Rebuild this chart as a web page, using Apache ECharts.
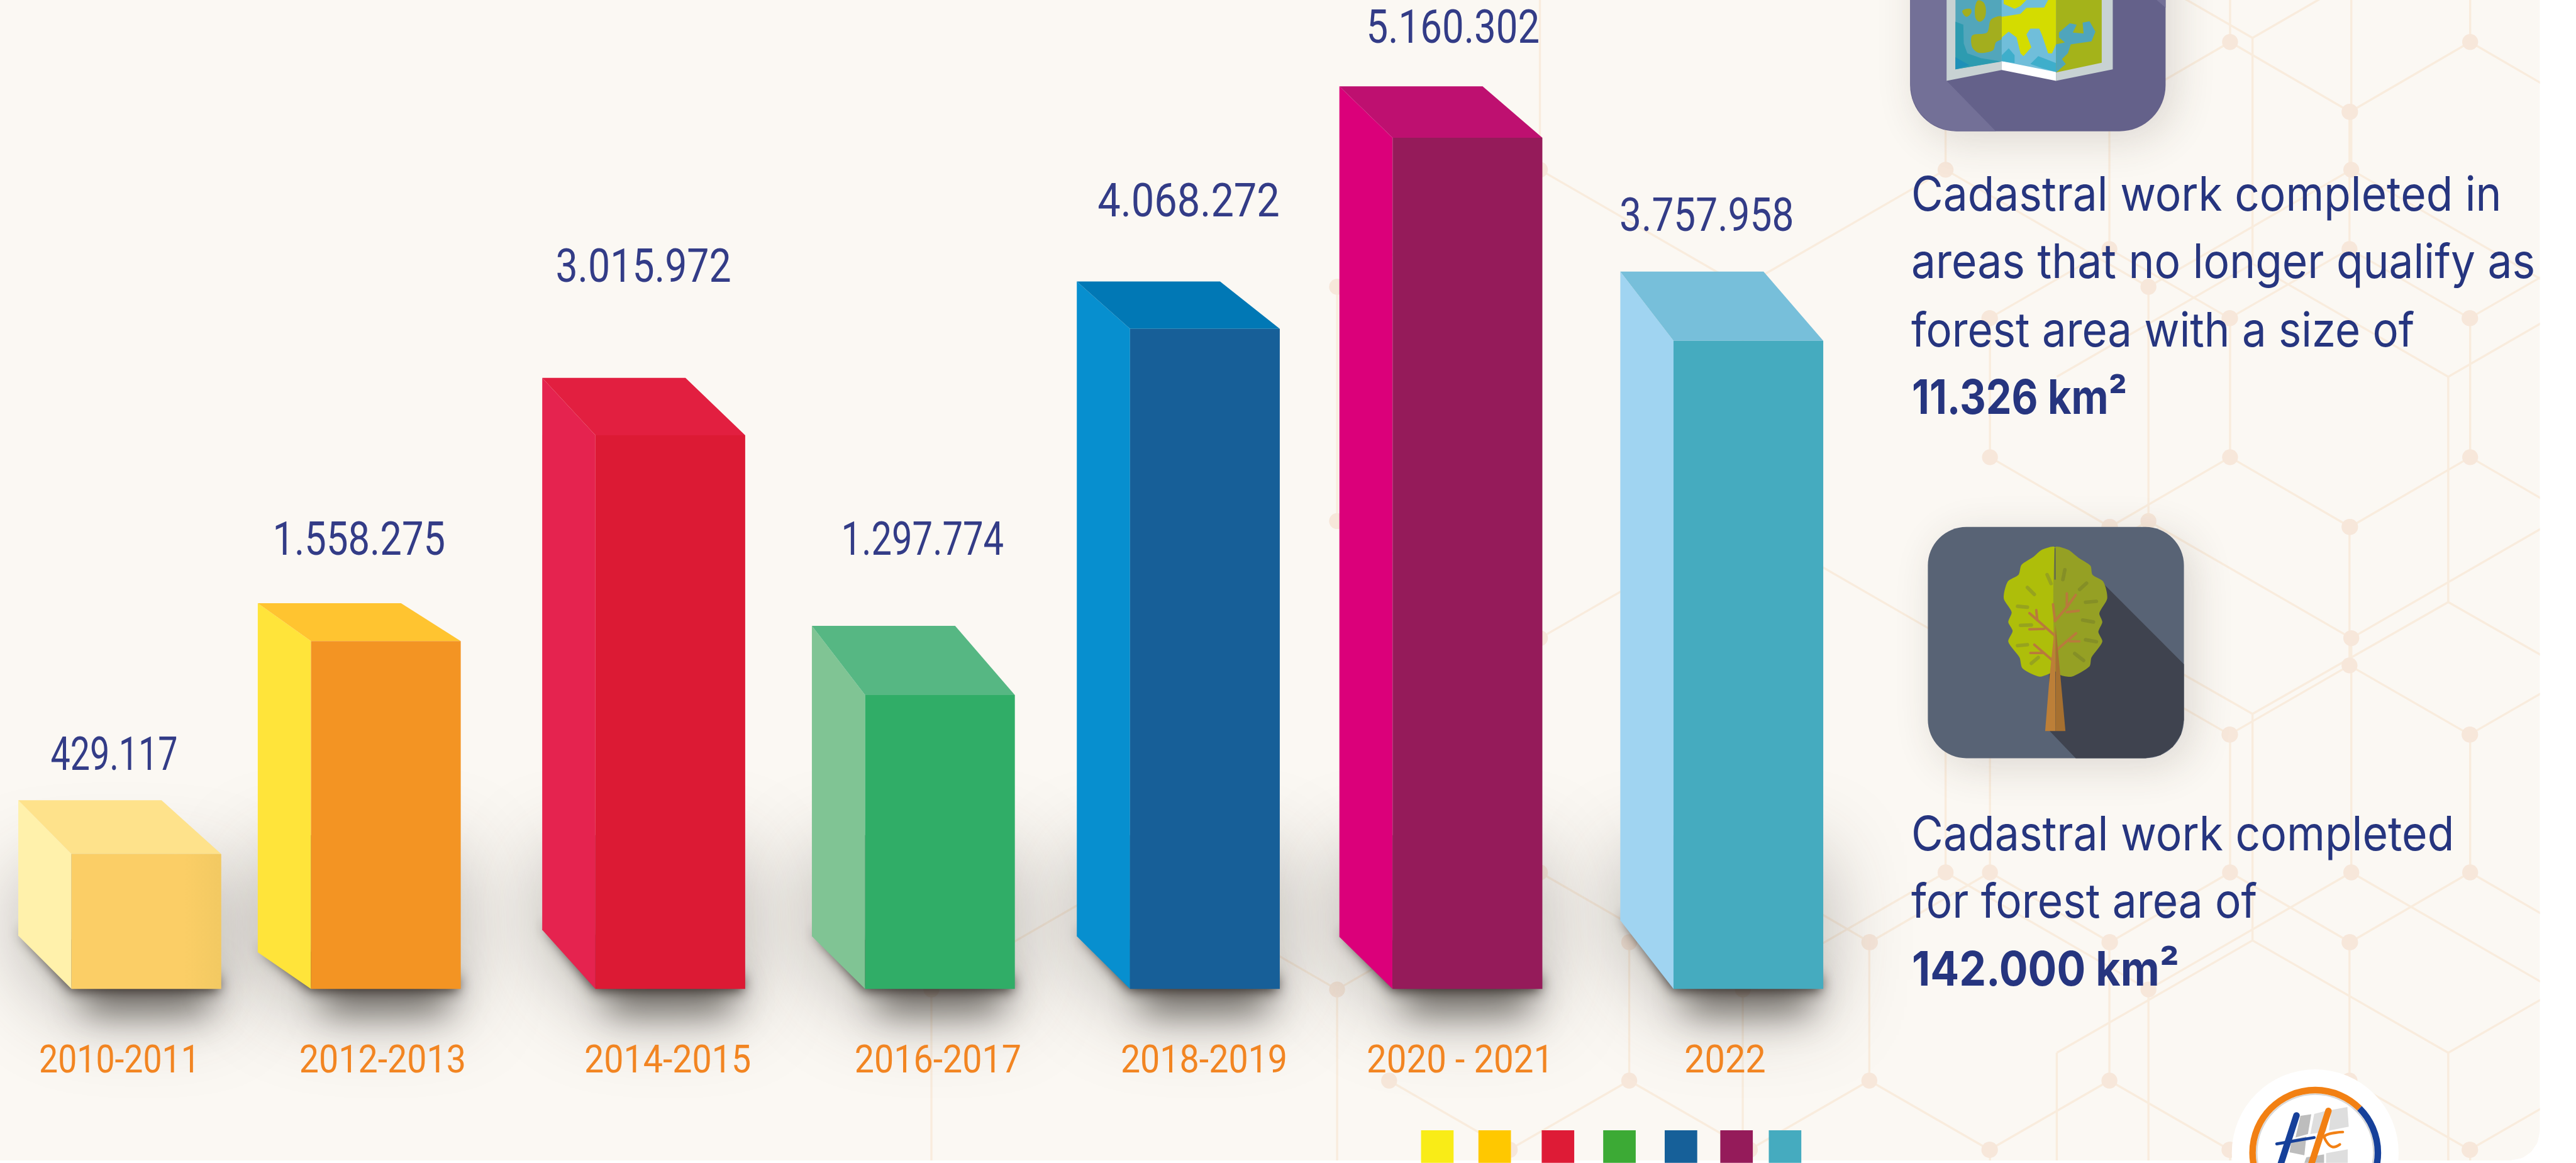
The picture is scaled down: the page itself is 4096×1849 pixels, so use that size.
<!DOCTYPE html>
<html><head><meta charset="utf-8">
<style>html,body{margin:0;padding:0;background:#fff}#c{width:4096px;height:1849px}</style>
<script src="https://cdn.jsdelivr.net/npm/echarts@6/dist/echarts.min.js"></script>
</head><body><div id="c"></div>
<script>
// ---------- data ----------
const categories = ['2010-2011','2012-2013','2014-2015','2016-2017','2018-2019','2020 - 2021','2022'];
const printedValues = [429117,1558275,3015972,1297774,4068272,5160302,3757958];
// The artwork is not drawn to scale: these are the bar heights as read on a linear axis topped by the tallest bar.
const drawnValues = [818000,2109000,3357000,1782000,4002000,5160302,3930000];
const noteLinesA = ['Cadastral work completed in','areas that no longer qualify as','forest area with a size of'];
const noteBoldA = '11.326 km²';
const noteLinesB = ['Cadastral work completed','for forest area of'];
const noteBoldB = '142.000 km²';
// ---------- styling (in reference pixels) ----------
const S = 4096/4356;
const frontCol = ['#FBCE66','#F39423','#DC1A34','#30AD67','#175F98','#951B5A','#45ABBF'];
const leftCol  = ['#FFF1AB','#FFE43A','#E5234F','#80C494','#078FCF','#DB007A','#A0D4F1'];
const topCol   = ['#FEE28B','#FFC430','#E21F40','#56B783','#0178B5','#BE1070','#77BFDA'];
const swatchCol= ['#F9EC17','#FFC800','#DE1B36','#3CAA35','#166099','#951B5A','#45ABBF'];
const swatchX  = [2403,2500,2607,2711,2815,2909,2991];
const barNudge = [21,-27,1,4,-1,-10,12];
const depthTop = [91,64,97,117,80,87,117];
const depthBot = [90,62,100,89,89,88,116];
const valueCx  = [193,607,1088,1560,2010,2457,2886];
const valueBase= [1310,946,485,946,374,81,399];
const valueW   = [215,292,297,275,308,293,295];
const catCx    = [202,647,1129,1586,2036,2469,2917];
const catW     = [272,282,282,282,282,316,138];
const NAVY='#333C87', ORANGE='#F28522';
const VF='Roboto, sans-serif', TF='Inter, sans-serif';
const mctx=document.createElement('canvas').getContext('2d');
function fit(text,font,w){mctx.font=font;return w/mctx.measureText(text).width;}

// ---------- background hexagons ----------
const seg=[],nodeSet=new Map();
function hex(rows,step,keep,withNodes){
  for(let r=0;r<rows.length-1;r++){
    const [y1,x1]=rows[r],[y2,x2]=rows[r+1];
    for(let a=x1-step*12;a<4500;a+=step){
      const targets=(x1===x2)?[a]:[a-step/2,a+step/2];
      for(const b of targets){
        if(!keep(a,y1,b,y2))continue;
        seg.push([a,y1,b,y2]);
        if(withNodes){nodeSet.set(a+'_'+y1,[a,y1]);nodeSet.set(b+'_'+y2,[b,y2]);}
      }
    }
  }
}
hex([[-109,2604],[287,2604],[485,2947],[881,2947],[1079,2604],[1475,2604],[1673,2947],[2069,2947]],686,
  (a,y,b,v)=>{const mx=Math.min(a,b);return mx>=1575&&(mx>=2250||Math.min(y,v)>=1475)&&!(mx<2250&&a===b&&y<1673);},true);
hex([[-164,3771],[71,3771],[189,3973],[421,3973],[538,3771],[773,3771],[891,3973],[1125,3973],[1242,3771],[1475,3771],[1593,3973],[1827,3973],[1944,3771],[2180,3771]],406,
  (a,y,b,v)=>{const mx=Math.min(a,b),my=Math.min(y,v);return mx>=3364||(my>=1475&&mx>=2958)||(my>=1827&&mx>=2349)||(a===2755&&b===2755&&y===1593);},true);
hex([[-127,4140],[64,3809],[446,3809],[637,4140],[1018,4140],[1207,3809],[1590,3809],[1780,4140],[2162,4140]],662,
  (a,y,b,v)=>{const mx=Math.min(a,b);return mx>=3478&&!(a===3478&&b===3478&&y===637);},false);

// ---------- page-level decoration, in reference pixels ----------
const G=[];
const P=pts=>pts.map(p=>[p[0]*S,p[1]*S]);
function poly(pts,fill,smooth){G.push({type:'polygon',shape:{points:P(pts),smooth:smooth||0},style:{fill}});}
function line(a,b,c,d,stroke,w,cap){G.push({type:'line',shape:{x1:a*S,y1:b*S,x2:c*S,y2:d*S},style:{stroke,lineWidth:w*S,lineCap:cap||'butt'}});}
function rrect(x,y,w,h,r,fill,extra){G.push({type:'rect',shape:{x:x*S,y:y*S,width:w*S,height:h*S,r:r*S},style:Object.assign({fill},extra||{})});}
function circ(cx,cy,r,style){G.push({type:'circle',shape:{cx:cx*S,cy:cy*S,r:r*S},style});}

// panel
rrect(-60,-60,4355,2022,50,'#FBF8F3');
seg.forEach(s=>line(s[0],s[1],s[2],s[3],'#F9ECDD',3.6));
nodeSet.forEach(n=>circ(n[0],n[1],13.5,{fill:'#F7E7DA'}));
// white page margin outside the rounded panel: right strip and bottom strip, with the corner notch
G.push({type:'polygon',shape:{points:P([[4295,-10],[4370,-10],[4370,1980],[-10,1980],[-10,1962],[4245,1962],[4265,1958],[4280,1948],[4291,1932],[4295,1912]])},style:{fill:'#FFFFFF'}});

// swatches
swatchX.forEach((x,i)=>rrect(x,1911,55,55,0,swatchCol[i]));

// map icon
const shadowSoft={shadowBlur:70*S,shadowColor:'rgba(60,50,40,0.16)',shadowOffsetX:14*S,shadowOffsetY:14*S};
rrect(3230,-170,432,392,78,'#64618A',shadowSoft);
poly([[3230,-5],[3292,-5],[3292,137],[3375,222],[3310,222],[3288,219],[3265,209],[3246,191],[3234,168],[3230,142]],'#737097');
poly([[3647,0],[3662,13],[3662,0]],'#737097');
const z9=pts=>pts.map(p=>[3200+p[0]/3,p[1]/3]);
poly(z9([[275,0],[555,0],[555,355],[275,410]]),'#C8D2D3');
poly(z9([[555,0],[830,0],[830,410],[555,355]]),'#FFFFFF');
poly(z9([[830,0],[1118,0],[1118,352],[830,410]]),'#C8D2D3');
poly(z9([[320,0],[555,0],[555,310],[320,352]]),'#52A6BB');
poly(z9([[320,110],[360,125],[362,220],[380,270],[450,295],[555,312],[320,352]]),'#2D9BB0');
poly(z9([[320,290],[390,330],[320,352]]),'#1E90B8');
poly(z9([[405,180],[480,165],[500,100],[555,85],[555,195],[525,215],[510,255],[440,268],[405,240]]),'#A3AE1E',0.3);
poly(z9([[430,5],[465,15],[472,80],[445,110],[420,85]]),'#A3AE1E',0.4);
poly(z9([[355,55],[395,45],[400,65],[375,85]]),'#A3AE1E',0.4);
poly(z9([[555,0],[830,0],[830,365],[555,310]]),'#70BEDA');
poly(z9([[555,85],[650,70],[680,40],[770,38],[790,0],[830,0],[830,225],[810,270],[790,270],[760,180],[745,145],[700,145],[680,175],[705,240],[665,285],[650,270],[630,190],[590,160],[555,190]]),'#D4DC00');
poly(z9([[565,0],[680,0],[650,30],[620,45],[565,20]]),'#D4DC00');
poly(z9([[555,280],[590,245],[620,280],[620,320],[555,310]]),'#3EAECB');
poly(z9([[700,325],[740,285],[830,320],[830,365],[760,345]]),'#3EAECB');
poly(z9([[830,0],[1062,0],[1062,318],[830,368]]),'#A4B31A');
poly(z9([[845,165],[900,118],[935,125],[915,165],[970,170],[965,115],[1000,108],[1030,160],[1010,210],[905,225],[890,270],[860,300],[880,325],[830,368],[830,225],[875,215],[845,190]]),'#4FA5BC');

// tree icon
rrect(3260,891,433,391,65,'#586375',shadowSoft);
poly([[3557,987],[3693,1123],[3693,1217],[3688,1242],[3674,1263],[3653,1277],[3628,1282],[3510,1282],[3465,1235],[3465,1100]],'#3F434F');
const z10=pts=>pts.map(p=>[3360+p[0]/3,900+p[1]/3]);
poly(z10([[345,78],[280,88],[235,125],[175,165],[160,215],[105,250],[85,335],[125,405],[108,455],[130,500],[108,555],[165,635],[180,690],[265,732],[320,715],[345,700]]),'#AEBE0A',0.25);
poly(z10([[345,78],[410,88],[465,130],[525,170],[535,215],[590,250],[610,335],[570,410],[585,455],[565,505],[585,555],[530,635],[520,680],[430,732],[375,725],[345,700]]),'#95A024',0.25);
const leafL=[[305,215,325,260],[205,280,240,315],[155,375,205,380],[170,472,225,470],[155,575,205,570],[225,665,260,635]];
const leafR=[[395,190,385,240],[505,258,470,290],[500,355,555,350],[485,445,540,455],[500,545,555,555],[445,615,490,650]];
const zl=(a,c)=>{const q=z10([[a[0],a[1]],[a[2],a[3]]]);line(q[0][0],q[0][1],q[1][0],q[1][1],c,6,'round');};
leafL.forEach(a=>zl(a,'#97A31E'));leafR.forEach(a=>zl(a,'#858F26'));
{const q=z10([[345,80],[345,240]]);line(q[0][0],q[0][1],q[1][0],q[1][1],'#4A5060',1.6);}
[[345,525,255,445],[255,445,215,410],[255,445,250,395],[290,490,215,492],[345,660,240,570],[285,612,220,612],[345,450,335,365],[345,450,405,380],[405,380,450,318],[405,380,405,310],[405,405,465,398],[350,600,452,512],[420,553,468,553]]
 .forEach(a=>{const q=z10([[a[0],a[1]],[a[2],a[3]]]);line(q[0][0],q[0][1],q[1][0],q[1][1],'#B97A3C',4.2,'round');});
poly(z10([[295,1008],[318,725],[345,470],[348,1008]]),'#BC7F38');
poly(z10([[348,1008],[398,1008],[372,725],[348,470]]),'#A67030');

// logo
circ(3915,1949,141,{fill:'#FFFFFF'});
circ(3915,1949,99,{fill:'none',stroke:'#D8D8D8',lineWidth:2.6*S});
const z8=pts=>pts.map(p=>[3700+p[0]/3,1780+p[1]/3]);
poly(z8([[570,320],[625,312],[608,412],[545,430]]),'#BDBDBD');
poly(z8([[640,310],[715,290],[700,400],[620,412]]),'#DEDEDE');
poly(z8([[725,290],[808,275],[815,375],[715,395]]),'#DEDEDE');
poly(z8([[525,440],[600,425],[590,520],[515,505]]),'#BDBDBD');
poly(z8([[600,530],[690,515],[690,558],[590,558]]),'#BDBDBD');
poly(z8([[700,510],[810,490],[810,558],[700,558]]),'#DEDEDE');
G.push({type:'arc',shape:{cx:3915*S,cy:1949*S,r:106*S,startAngle:Math.PI*0.75,endAngle:Math.PI*1.75,clockwise:true},style:{fill:'none',stroke:'#F28013',lineWidth:11*S}});
G.push({type:'arc',shape:{cx:3915*S,cy:1949*S,r:106*S,startAngle:-Math.PI*0.25,endAngle:Math.PI*0.4,clockwise:true},style:{fill:'none',stroke:'#16409A',lineWidth:11*S}});
{const a=z8([[550,318],[470,565]]);line(a[0][0],a[0][1],a[1][0],a[1][1],'#16409A',11,'round');
 const b=z8([[450,462],[640,430]]);line(b[0][0],b[0][1],b[1][0],b[1][1],'#16409A',5,'round');
 const c=z8([[712,295],[625,565]]);line(c[0][0],c[0][1],c[1][0],c[1][1],'#F28013',11,'round');
 G.push({type:'polyline',shape:{points:P(z8([[785,402],[695,420],[705,455],[735,478],[770,465]])),smooth:0.4},style:{fill:'none',stroke:'#F28013',lineWidth:4.5*S,lineCap:'round'}});}

// notes
function note(text,x,base,w,weight,fsRef){
  const fs=(fsRef||80)*S,font=weight+' '+fs+'px '+TF;
  G.push({type:'text',x:x*S,y:(base*S-fs*0.36+5*S),scaleX:fit(text,font,w*S),
    style:{text,align:'left',verticalAlign:'middle',font,fill:'#26357F'}});
}
note(noteLinesA[0],3232,356,998,400);note(noteLinesA[1],3232,470,1055,400);note(noteLinesA[2],3232,586,851,400);note(noteBoldA,3233,700,364,700);
note(noteLinesB[0],3232,1438,918,400);note(noteLinesB[1],3232,1551,585,400);note(noteBoldB,3233,1666,452,700);

// ---------- chart ----------
function geom(params,api){
  const i=api.value(0);
  const t=api.coord([i,api.value(1)]),b=api.coord([i,0]);
  const band=api.size([1,0])[0];
  const cx=t[0]+barNudge[i]*S,h=band*0.2795;
  const fl=cx-h,fr=cx+h,ty=t[1],by=b[1],dx=90*S,inset=101*S;
  return {i,fl,fr,ty,by,bl:fl-dx,br:fr-inset,ty2:ty-depthTop[i]*S,lb:by-depthBot[i]*S};
}
function renderShadow(params,api){
  const g=geom(params,api);
  const up=Math.min(260*S,g.by-g.ty);
  return {type:'group',children:[
    {type:'polygon',shape:{points:[[g.bl+4,g.by-up],[g.fr-4,g.by-up],[g.fr-4,g.by-3],[g.fl+4,g.by-3],[g.bl+4,g.lb]]},
      style:{fill:'#8a8784',shadowBlur:140*S,shadowColor:'rgba(55,50,45,0.36)',shadowOffsetY:34*S}},
    {type:'rect',shape:{x:g.fl+20,y:g.by-70*S,width:g.fr-g.fl-40,height:66*S},
      style:{fill:'#8a8784',shadowBlur:60*S,shadowColor:'rgba(50,45,40,0.62)',shadowOffsetY:44*S}},
    {type:'polygon',shape:{points:[[g.bl+4,g.lb-14*S],[g.fl+2,g.by-3],[g.fr-2,g.by-3],[g.fr-2,g.by-24*S]]},
      style:{fill:'#4d4642',shadowBlur:22*S,shadowColor:'rgba(38,30,26,0.92)',shadowOffsetX:-2*S,shadowOffsetY:6*S}}
  ]};
}
function renderBar(params,api){
  const g=geom(params,api),i=g.i;
  const valueTxt=String(printedValues[i]).replace(/\B(?=(\d{3})+$)/g,'.');
  const vfs=78*S,vfont='400 '+vfs+'px '+VF,cfs=65*S,cfont='400 '+cfs+'px '+VF;
  const frontFill=i===0?{type:'linear',x:0,y:0,x2:1,y2:0,colorStops:[{offset:0,color:'#FBCE66'},{offset:0.75,color:'#FBCE66'},{offset:1,color:'#F2C962'}]}:frontCol[i];
  return {type:'group',children:[
    {type:'polygon',shape:{points:[[g.bl,g.ty2],[g.fl,g.ty],[g.fl,g.by],[g.bl,g.lb]]},style:{fill:leftCol[i]}},
    {type:'polygon',shape:{points:[[g.bl,g.ty2],[g.br,g.ty2],[g.fr,g.ty],[g.fl,g.ty]]},style:{fill:topCol[i]}},
    {type:'polygon',shape:{points:[[g.fl,g.ty],[g.fr,g.ty],[g.fr,g.by],[g.fl,g.by]]},style:{fill:frontFill}},
    {type:'text',x:valueCx[i]*S,y:valueBase[i]*S-vfs*0.355,scaleX:fit(valueTxt,vfont,valueW[i]*S),
      style:{text:valueTxt,align:'center',verticalAlign:'middle',font:vfont,fill:NAVY}},
    {type:'text',x:catCx[i]*S,y:1820*S-cfs*0.355,scaleX:fit(categories[i],cfont,catW[i]*S),
      style:{text:categories[i],align:'center',verticalAlign:'middle',font:cfont,fill:ORANGE}}
  ]};
}
const seriesData=categories.map((c,i)=>[i,drawnValues[i]]);
const chart=echarts.init(document.getElementById('c'),null,{renderer:'canvas',width:4096,height:1849});
chart.setOption({
  animation:false,backgroundColor:'#FFFFFF',
  grid:{left:0,width:3171*S,top:233*S,height:1439*S,containLabel:false},
  xAxis:{type:'category',data:categories,show:false},
  yAxis:{type:'value',min:0,max:5160302,show:false},
  graphic:{elements:G},
  tooltip:{show:false},
  series:[
    {type:'custom',name:'shadow',z:3,silent:true,data:seriesData,encode:{x:0,y:1},renderItem:renderShadow},
    {type:'custom',name:'bars',z:4,silent:true,data:seriesData,encode:{x:0,y:1},renderItem:renderBar}
  ]
});
</script></body></html>
